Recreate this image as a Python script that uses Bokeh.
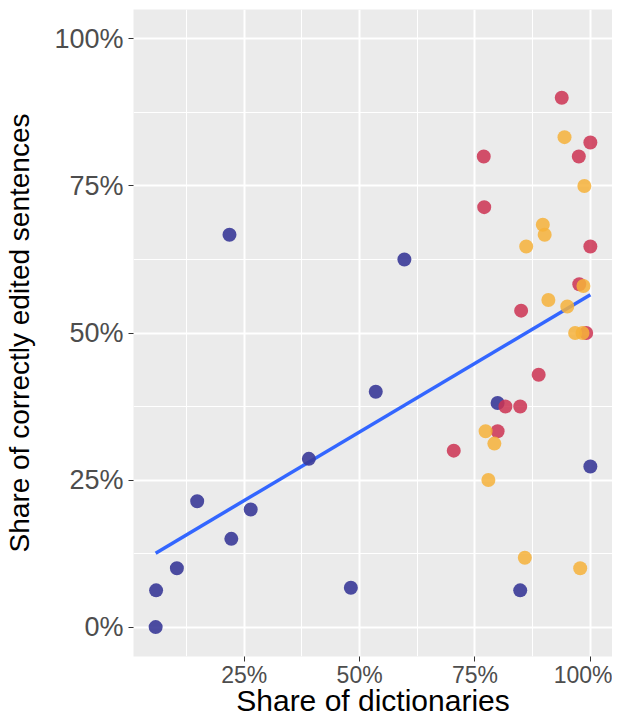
import numpy as np
from bokeh.plotting import figure
from bokeh.models import Range1d, FixedTicker, NumeralTickFormatter
from bokeh.embed import file_html
from bokeh.resources import INLINE

# Group 1 (navy)
blue_x = [0.058, 0.059, 0.104, 0.148, 0.222, 0.264, 0.218, 0.390, 0.481, 0.535, 0.597, 0.799, 0.848, 1.000]
blue_y = [0.000, 0.0625, 0.100, 0.214, 0.150, 0.200, 0.667, 0.286, 0.067, 0.400, 0.625, 0.381, 0.0625, 0.273]
# Group 2 (crimson)
red_x = [0.938, 0.769, 1.000, 0.975, 0.770, 1.000, 0.976, 0.850, 0.991, 0.888, 0.816, 0.848, 0.799, 0.704]
red_y = [0.900, 0.800, 0.824, 0.800, 0.714, 0.647, 0.583, 0.538, 0.500, 0.429, 0.375, 0.375, 0.333, 0.300]
# Group 3 (orange)
orange_x = [0.944, 0.987, 0.897, 0.901, 0.861, 0.909, 0.950, 0.985, 0.967, 0.983, 0.773, 0.792, 0.779, 0.858, 0.978]
orange_y = [0.833, 0.750, 0.684, 0.667, 0.647, 0.556, 0.545, 0.580, 0.500, 0.500, 0.333, 0.312, 0.250, 0.118, 0.100]

x_ticks = [0.25, 0.50, 0.75, 1.00]
x_minor = [0.125, 0.375, 0.625, 0.875]
y_ticks = [0.0, 0.25, 0.50, 0.75, 1.00]
y_minor = [0.125, 0.375, 0.625, 0.875]

x_title = "Share of dictionaries"
y_title = "Share of correctly edited sentences"

all_x = np.array(blue_x + red_x + orange_x)
all_y = np.array(blue_y + red_y + orange_y)
slope, intercept = np.polyfit(all_x, all_y, 1)
fit_x = np.array([all_x.min(), all_x.max()])
fit_y = intercept + slope * fit_x

p = figure(width=612, height=719, output_backend="svg", toolbar_location=None,
           x_range=Range1d(0.01, 1.048), y_range=Range1d(-0.05, 1.05),
           min_border_left=133, min_border_right=0, min_border_top=9, min_border_bottom=40)
p.background_fill_color = "#EBEBEB"
p.border_fill_color = "white"
p.outline_line_color = None

p.xaxis.ticker = FixedTicker(ticks=x_ticks, minor_ticks=x_minor)
p.yaxis.ticker = FixedTicker(ticks=y_ticks, minor_ticks=y_minor)
for ax in (p.xaxis, p.yaxis):
    ax.formatter = NumeralTickFormatter(format="0%")
    ax.axis_line_color = None
    ax.major_tick_line_color = "#333333"
    ax.major_tick_line_width = 1
    ax.major_tick_out = 5
    ax.major_tick_in = 0
    ax.minor_tick_line_color = None
    ax.major_label_text_color = "#4D4D4D"
    ax.major_label_text_font = "Liberation Sans"
    ax.axis_label_text_font = "Liberation Sans"
    ax.axis_label_text_font_style = "normal"
    ax.axis_label_text_color = "black"

p.xaxis.axis_label = x_title
p.yaxis.axis_label = y_title
p.xaxis.major_label_text_font_size = "23px"
p.yaxis.major_label_text_font_size = "27px"
p.xaxis.axis_label_text_font_size = "30px"
p.yaxis.axis_label_text_font_size = "28px"
p.xaxis.major_label_standoff = 0
p.yaxis.major_label_standoff = 5
p.xaxis.axis_label_standoff = -7
p.yaxis.axis_label_standoff = 16

for g in (p.xgrid, p.ygrid):
    g.grid_line_color = "white"
    g.grid_line_width = 2
    g.minor_grid_line_color = "white"
    g.minor_grid_line_width = 1

p.line(fit_x, fit_y, line_color="#3366FF", line_width=3.5)

p.scatter(blue_x, blue_y, size=14, fill_color="#3A3A98", line_color=None, fill_alpha=0.9)
p.scatter(red_x, red_y, size=14, fill_color="#CC3352", line_color=None, fill_alpha=0.85)
p.scatter(orange_x, orange_y, size=14, fill_color="#F6B23A", line_color=None, fill_alpha=0.85)

open("out.html", "w").write(file_html(p, INLINE))
